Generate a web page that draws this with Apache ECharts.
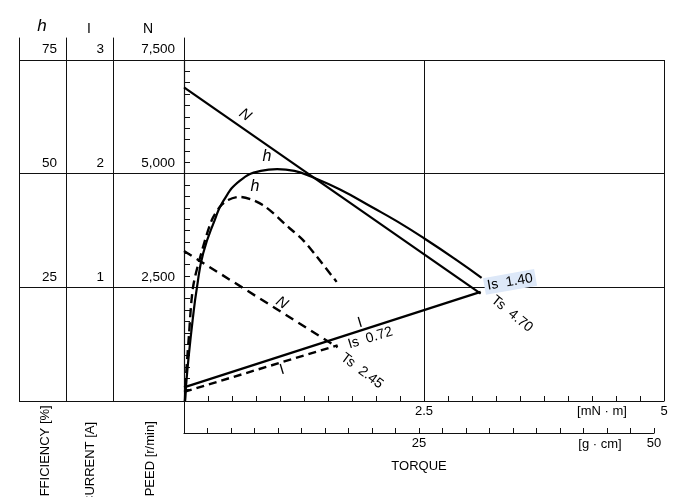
<!DOCTYPE html>
<html><head><meta charset="utf-8">
<script src="https://cdn.jsdelivr.net/npm/echarts@6/dist/echarts.min.js"></script>
<style>html,body{margin:0;padding:0;background:#fff}#c{width:689px;height:497px}</style>
</head><body><div id="c"></div>
<script>
// ---- data (torque in mN·m) ----
const effSolid = [[0.01,0],[0.02,3],[0.045,9],[0.09,17.8],[0.135,25],[0.2,32.5],[0.32,39.8],[0.41,44],[0.58,48.4],[0.8,50.6],[0.97,51.0],[1.15,50.6],[1.33,49.3],[1.625,46.5],[1.97,42.5],[2.22,39.5],[2.5,35.8],[2.84,31.0],[3.1,27.1]];
const effDashed = [[0.01,0],[0.02,5],[0.05,14],[0.094,25],[0.18,32.5],[0.29,39.8],[0.375,42.7],[0.46,44.2],[0.58,44.9],[0.82,43.1],[1.1,38],[1.24,35.4],[1.385,31.7],[1.59,26.2]];
const speedSolid = [[0,6900],[3.09,2360]];
const speedDashed = [[0,3300],[1.6,1180]];
const currentSolid = [[0,0.12],[3.09,0.96]];
const currentDashed = [[0,0.08],[1.6,0.49]];
const mNmLabels = [2.5, 5];
const gcmLabels = [25, 50];
const effHeader = 'h', curHeader = 'I', spdHeader = 'N';

const FONT = 'Liberation Sans, Arial, Helvetica, sans-serif';
const LC = '#111';
const chart = echarts.init(document.getElementById('c'), null, {renderer:'canvas'});

function lbl(text, coord, opt){
  return Object.assign({coord:coord, symbol:'circle', symbolSize:1, itemStyle:{color:'rgba(0,0,0,0)'},
    label:Object.assign({show:true, position:'inside', formatter:text, color:'#000', fontSize:13, fontFamily:FONT}, opt||{})});
}
const hidden = {show:false};
const lineOnly = {axisLine:{show:true,onZero:false,lineStyle:{color:LC,width:1}}, axisTick:hidden, axisLabel:hidden, splitLine:hidden};
const yLab = (fmt)=>({show:true, formatter:fmt, color:'#000', fontSize:13.5, fontFamily:FONT, margin:9, verticalAlign:'bottom', lineHeight:21, hideOverlap:false});

const option = {
  animation:false,
  backgroundColor:'#fff',
  textStyle:{fontFamily:FONT},
  grid:[
    {left:184, top:60, width:480, height:341, outerBoundsMode:'none', containLabel:false},
    {left:184, top:401, width:470, height:32, outerBoundsMode:'none', containLabel:false},
    {left:19, top:60, width:165, height:341, outerBoundsMode:'none', containLabel:false},
    {left:19, top:38, width:165, height:363, outerBoundsMode:'none', containLabel:false}
  ],
  xAxis:[
    {gridIndex:0, type:'value', min:0, max:5, interval:0.25, position:'bottom',
     axisLine:{show:true,onZero:false,lineStyle:{color:LC,width:1.2}},
     axisTick:{show:true,inside:true,length:5,lineStyle:{color:LC,width:1}},
     axisLabel:{show:true, formatter:v=>mNmLabels.includes(v)?String(v):'', color:'#000', fontSize:13, fontFamily:FONT, margin:4, hideOverlap:false},
     splitLine:hidden},
    {gridIndex:0, type:'value', min:0, max:5, interval:2.5, position:'top',
     axisLine:hidden, axisTick:hidden, axisLabel:hidden, splitLine:{show:true,lineStyle:{color:LC,width:1}}},
    {gridIndex:1, type:'value', min:0, max:50, interval:2.5, position:'bottom',
     axisLine:{show:true,onZero:false,lineStyle:{color:LC,width:1.2}},
     axisTick:{show:true,inside:true,length:5,lineStyle:{color:LC,width:1}},
     axisLabel:{show:true, formatter:v=>gcmLabels.includes(v)?String(v):'', color:'#000', fontSize:13, fontFamily:FONT, margin:4, hideOverlap:false},
     splitLine:hidden,
     name:'TORQUE', nameLocation:'middle', nameGap:27, nameTextStyle:{color:'#000', fontSize:13, fontFamily:FONT}},
    {gridIndex:2, type:'value', min:0, max:1, show:false},
    {gridIndex:3, type:'value', min:0, max:1, show:false}
  ],
  yAxis:[
    {gridIndex:0, type:'value', min:0, max:75, interval:25, position:'left', offset:118,
     axisLine:{show:false,onZero:false}, axisTick:hidden, splitLine:hidden,
     axisLabel:yLab(v=>v===0?'':String(v))},
    {gridIndex:0, type:'value', min:0, max:3, interval:1, position:'left', offset:71,
     axisLine:{show:false,onZero:false}, axisTick:hidden, splitLine:hidden,
     axisLabel:yLab(v=>v===0?'':String(v))},
    {gridIndex:0, type:'value', min:0, max:7500, interval:2500, position:'left', offset:0,
     axisLine:{show:false,onZero:false}, axisTick:hidden,
     splitLine:{show:true,lineStyle:{color:LC,width:1}},
     axisLabel:yLab(v=>v===0?'':v.toLocaleString('en-US'))},
    {gridIndex:0, type:'value', min:0, max:75, interval:2.5, position:'left', offset:0,
     axisLine:{show:true,onZero:false,lineStyle:{color:LC,width:1.2}},
     axisTick:{show:true,inside:true,length:6,lineStyle:{color:LC,width:1}},
     axisLabel:hidden, splitLine:hidden},
    Object.assign({gridIndex:1, type:'value', min:0, max:1, position:'left'}, lineOnly),
    {gridIndex:2, type:'value', min:0, max:75, interval:25, position:'left',
     axisLine:{show:false,onZero:false}, axisTick:hidden, axisLabel:hidden,
     splitLine:{show:true,lineStyle:{color:LC,width:1}}},
    Object.assign({gridIndex:3, type:'value', min:0, max:1, position:'left', offset:0}, lineOnly),
    Object.assign({gridIndex:3, type:'value', min:0, max:1, position:'left', offset:-47}, lineOnly),
    Object.assign({gridIndex:3, type:'value', min:0, max:1, position:'left', offset:-94}, lineOnly),
    Object.assign({gridIndex:3, type:'value', min:0, max:1, position:'right', offset:0}, lineOnly)
  ],
  series:[
    {type:'line', xAxisIndex:0, yAxisIndex:0, data:effSolid, smooth:0.5, symbol:'none',
     lineStyle:{color:'#000', width:2.2},
     markPoint:{data:[lbl('h',[0.865,53.7],{fontStyle:'italic',fontSize:16})]}},
    {type:'line', xAxisIndex:0, yAxisIndex:0, data:effDashed, smooth:0.3, symbol:'none',
     lineStyle:{color:'#000', width:2.4, type:[9,5]},
     markPoint:{data:[lbl('h',[0.74,47.1],{fontStyle:'italic',fontSize:16})]}},
    {type:'line', xAxisIndex:0, yAxisIndex:2, data:speedSolid, symbol:'none',
     lineStyle:{color:'#000', width:2.2},
     markPoint:{data:[lbl('N',[0.635,6290],{fontStyle:'italic',fontSize:15,rotate:-35}),
                      lbl('Ts  4.70',[3.417,1913],{rotate:-39,fontSize:14})]}},
    {type:'line', xAxisIndex:0, yAxisIndex:2, data:speedDashed, symbol:'none',
     lineStyle:{color:'#000', width:2.4, type:[9,6]},
     markPoint:{data:[lbl('N',[1.02,2155],{fontStyle:'italic',fontSize:15,rotate:-33}),
                      lbl('Ts  2.45',[1.854,660],{rotate:-37,fontSize:14})]}},
    {type:'line', xAxisIndex:0, yAxisIndex:1, data:currentSolid, symbol:'none',
     lineStyle:{color:'#000', width:2.2},
     markPoint:{data:[lbl('I',[1.833,0.686],{fontSize:15,rotate:17}),
                      lbl('Is  1.40',[3.396,1.047],{rotate:10,fontSize:14,backgroundColor:'#dde8f8',padding:[2,3,1,3]})]}},
    {type:'line', xAxisIndex:0, yAxisIndex:1, data:currentDashed, symbol:'none',
     lineStyle:{color:'#000', width:2.4, type:[8,5]},
     markPoint:{data:[lbl('I',[1.02,0.273],{fontSize:15,rotate:17}),
                      lbl('Is  0.72',[1.94,0.554],{rotate:17,fontSize:14})]}}
  ],
  graphic:[
    {type:'text', x:42, y:26, style:{text:effHeader, font:'italic 17px '+FONT, fill:'#000', textAlign:'center', textVerticalAlign:'middle'}},
    {type:'text', x:89, y:29, style:{text:curHeader, font:'14px '+FONT, fill:'#000', textAlign:'center', textVerticalAlign:'middle'}},
    {type:'text', x:148, y:29, style:{text:spdHeader, font:'14px '+FONT, fill:'#000', textAlign:'center', textVerticalAlign:'middle'}},
    {type:'text', x:45, y:505, rotation:Math.PI/2, style:{text:'EFFICIENCY [%]', font:'13px '+FONT, fill:'#000', textAlign:'left', textVerticalAlign:'middle'}},
    {type:'text', x:90, y:505, rotation:Math.PI/2, style:{text:'CURRENT [A]', font:'13px '+FONT, fill:'#000', textAlign:'left', textVerticalAlign:'middle'}},
    {type:'text', x:150, y:505, rotation:Math.PI/2, style:{text:'SPEED [r/min]', font:'13px '+FONT, fill:'#000', textAlign:'left', textVerticalAlign:'middle'}},
    {type:'text', x:602, y:411, style:{text:'[mN · m]', font:'13px '+FONT, fill:'#000', textAlign:'center', textVerticalAlign:'middle'}},
    {type:'text', x:600, y:444, style:{text:'[g · cm]', font:'13px '+FONT, fill:'#000', textAlign:'center', textVerticalAlign:'middle'}}
  ]
};
chart.setOption(option);
</script></body></html>
